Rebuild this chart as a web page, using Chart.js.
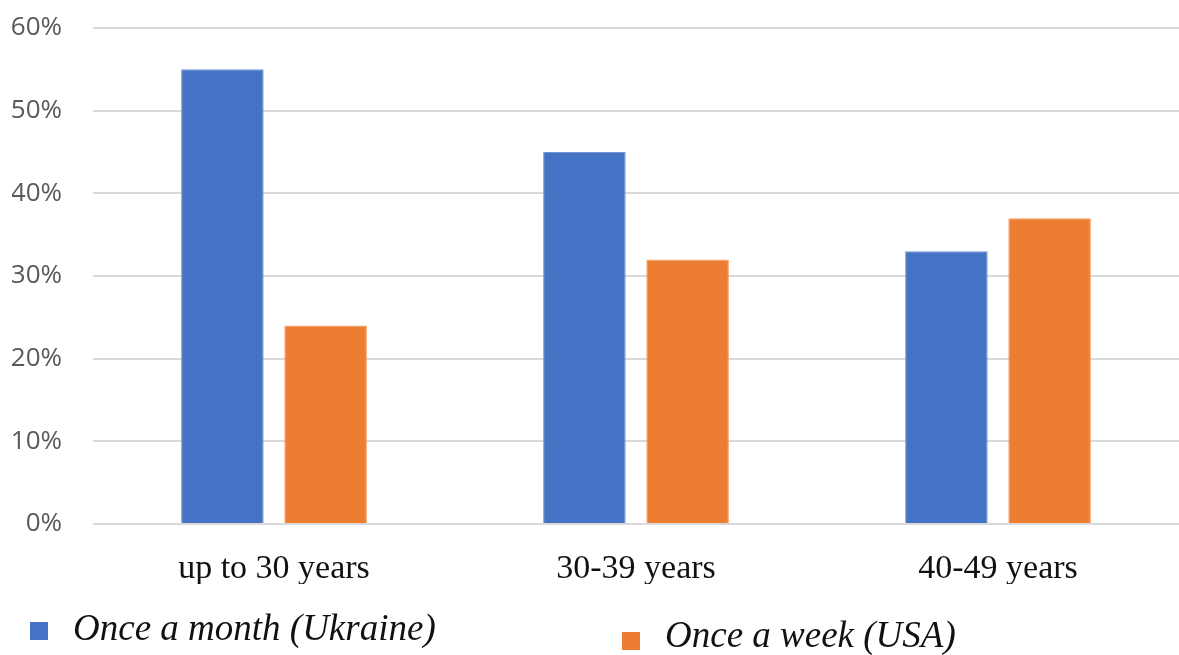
<!DOCTYPE html>
<html>
<head>
<meta charset="utf-8">
<script src="https://cdn.jsdelivr.net/npm/chart.js@4.4.1/dist/chart.umd.min.js"></script>
<style>
  html, body { margin: 0; padding: 0; background: #ffffff; }
  #wrap { width: 1179px; height: 655px; position: relative; }
</style>
</head>
<body>
<div id="wrap"><canvas id="c"></canvas></div>
<script>
const categories = ["up to 30 years", "30-39 years", "40-49 years"];
const seriesNames = ["Once a month (Ukraine)", "Once a week (USA)"];
const ukraineValues = [55, 45, 33];
const usaValues = [24, 32, 37];
const yTicks = [0, 10, 20, 30, 40, 50, 60];

const legendPlugin = {
  id: 'customLegend',
  afterDraw(chart) {
    const ctx = chart.ctx;
    const spots = [
      { box: [30, 622], text: [73, 630] },
      { box: [622, 632], text: [665, 637] }
    ];
    ctx.save();
    chart.data.datasets.forEach((ds, i) => {
      const s = spots[i];
      ctx.fillStyle = ds.backgroundColor;
      ctx.fillRect(s.box[0], s.box[1], 18, 18);
      ctx.fillStyle = '#111111';
      ctx.font = 'italic 37px "Liberation Serif", "DejaVu Serif", serif';
      ctx.textBaseline = 'middle';
      ctx.textAlign = 'left';
      ctx.fillText(ds.label, s.text[0], s.text[1]);
    });
    ctx.restore();
  }
};

new Chart(document.getElementById('c'), {
  type: 'bar',
  data: {
    labels: categories,
    datasets: [
      { label: seriesNames[0], data: ukraineValues, backgroundColor: '#4472C4', borderColor: '#6f93d6', borderWidth: 1 },
      { label: seriesNames[1], data: usaValues, backgroundColor: '#ED7D31', borderColor: '#f29a5e', borderWidth: 1 }
    ]
  },
  options: {
    responsive: true,
    maintainAspectRatio: false,
    animation: false,
    devicePixelRatio: 1,
    layout: { padding: { left: 12, right: 0, top: 28, bottom: 71 } },
    datasets: { bar: { categoryPercentage: 0.57, barPercentage: 0.8 } },
    plugins: {
      legend: { display: false },
      tooltip: { enabled: false }
    },
    scales: {
      x: {
        grid: { display: false, drawTicks: false },
        border: { display: false },
        afterFit(axis) { axis.height = 60; },
        ticks: {
          color: '#111111',
          padding: 25,
          font: { family: '"Liberation Serif", "DejaVu Serif", serif', size: 34 }
        }
      },
      y: {
        min: 0,
        max: 60,
        afterBuildTicks(axis) { axis.ticks = yTicks.map(v => ({ value: v })); },
        afterFit(axis) { axis.width = 81; axis.paddingTop = 0; axis.paddingBottom = 0; },
        grid: { color: '#d9d9d9', lineWidth: 2, drawTicks: false },
        border: { display: false },
        ticks: {
          color: '#595959',
          padding: 31,
          font: { family: '"Open Sans", "Noto Sans", sans-serif', size: 26 },
          callback: v => v + '%'
        }
      }
    }
  },
  plugins: [legendPlugin]
});
</script>
</body>
</html>
